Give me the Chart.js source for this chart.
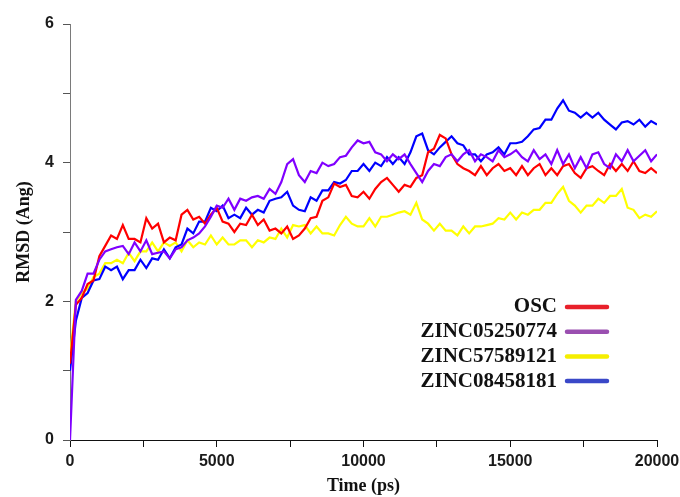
<!DOCTYPE html>
<html>
<head>
<meta charset="utf-8">
<script src="https://cdn.jsdelivr.net/npm/chart.js"></script>
<style>
  body { margin: 0; background: #fff; }
  canvas { display: block; }
</style>
</head>
<body>
<canvas id="rmsdChart" width="680" height="497"></canvas>
<script>
// time axis (ps)
const times = [
  0, 200, 400, 600, 800, 1000, 1200, 1400, 1600, 1800,
  2000, 2200, 2400, 2600, 2800, 3000, 3200, 3400, 3600, 3800,
  4000, 4200, 4400, 4600, 4800, 5000, 5200, 5400, 5600, 5800,
  6000, 6200, 6400, 6600, 6800, 7000, 7200, 7400, 7600, 7800,
  8000, 8200, 8400, 8600, 8800, 9000, 9200, 9400, 9600, 9800,
  10000, 10200, 10400, 10600, 10800, 11000, 11200, 11400, 11600, 11800,
  12000, 12200, 12400, 12600, 12800, 13000, 13200, 13400, 13600, 13800,
  14000, 14200, 14400, 14600, 14800, 15000, 15200, 15400, 15600, 15800,
  16000, 16200, 16400, 16600, 16800, 17000, 17200, 17400, 17600, 17800,
  18000, 18200, 18400, 18600, 18800, 19000, 19200, 19400, 19600, 19800,
  20000
];

const labels = ["OSC", "ZINC05250774", "ZINC57589121", "ZINC08458181"];

// RMSD (Ang)
const osc = [
  1.1, 1.95, 2.05, 2.25, 2.3, 2.65, 2.8, 2.95, 2.9, 3.1,
  2.9, 2.9, 2.85, 3.2, 3.05, 3.12, 2.85, 2.92, 2.88, 3.25,
  3.32, 3.18, 3.22, 3.12, 3.25, 3.35, 3.15, 3.12, 3.0, 3.12,
  3.1, 3.25, 3.1, 3.18, 3.02, 3.05, 2.98, 3.08, 2.9, 2.95,
  3.05, 3.2, 3.22, 3.45, 3.5, 3.7, 3.65, 3.68, 3.52, 3.5,
  3.58, 3.48, 3.62, 3.72, 3.78, 3.68, 3.58, 3.68, 3.65, 3.78,
  3.82, 4.15, 4.2, 4.4, 4.35, 4.12, 3.98, 3.92, 3.88, 3.82,
  3.95, 3.82, 3.92, 3.98, 3.88, 3.92, 3.82, 3.95, 3.82, 3.92,
  3.98, 3.82, 3.92, 3.82, 3.95, 3.98, 3.85, 3.78, 3.92, 3.95,
  3.88, 3.82, 3.98, 3.88, 3.98, 3.88, 4.02, 3.88, 3.85, 3.92,
  3.85
];
const zinc05250774 = [
  0, 2.02, 2.15, 2.4, 2.4, 2.6, 2.72, 2.75, 2.78, 2.8,
  2.68, 2.85, 2.72, 2.88, 2.68, 2.7, 2.72, 2.62, 2.75, 2.78,
  2.88, 2.92, 2.98, 3.08, 3.22, 3.38, 3.35, 3.48, 3.32, 3.48,
  3.45, 3.5, 3.52, 3.48, 3.62, 3.55, 3.72, 3.98, 4.05, 3.82,
  3.72, 3.88, 3.85, 4.0, 3.95, 3.98, 4.08, 4.1, 4.22, 4.32,
  4.28, 4.3, 4.15, 4.12, 4.02, 4.12, 4.05, 4.12, 3.98, 3.85,
  3.72, 3.88, 3.98, 3.95, 4.08, 4.12, 4.02, 4.12, 4.18, 4.02,
  4.12, 4.08, 4.02, 4.18, 4.08, 4.12, 4.18, 4.08, 4.02, 4.18,
  4.05, 4.12, 3.98, 4.18, 3.98, 4.12, 3.92, 4.08, 3.92, 4.12,
  4.15, 3.98, 3.92, 4.12, 4.02, 4.18, 4.02, 4.1, 4.18, 4.02,
  4.12
];
const zinc57589121 = [
  1.2, 2.0, 2.12, 2.18, 2.35, 2.4, 2.55, 2.55, 2.6, 2.55,
  2.7, 2.58, 2.72, 2.72, 2.85, 2.72, 2.85, 2.8, 2.85, 2.72,
  2.88, 2.78, 2.85, 2.82, 2.95, 2.82, 2.92, 2.82, 2.82, 2.88,
  2.88, 2.78, 2.88, 2.85, 2.92, 2.9, 3.05, 2.92, 3.1, 3.08,
  3.1, 2.98, 3.08, 2.98, 2.98, 2.95, 3.1, 3.22, 3.12, 3.08,
  3.08, 3.2, 3.08, 3.22, 3.22, 3.25, 3.28, 3.3, 3.25, 3.42,
  3.18, 3.12, 3.02, 3.12, 3.02, 3.02, 2.95, 3.08, 2.98, 3.08,
  3.08, 3.1, 3.12, 3.2, 3.18, 3.28, 3.18, 3.28, 3.25, 3.32,
  3.32, 3.42, 3.42, 3.55, 3.65, 3.45, 3.38, 3.28, 3.38, 3.38,
  3.48, 3.42, 3.52, 3.52, 3.62, 3.35, 3.32, 3.2, 3.25, 3.22,
  3.3
];
const zinc08458181 = [
  1.0, 1.72, 2.05, 2.12, 2.3, 2.32, 2.5, 2.45, 2.5, 2.32,
  2.45, 2.45, 2.6, 2.48, 2.62, 2.6, 2.75, 2.62, 2.78, 2.82,
  3.05, 2.98, 3.15, 3.15, 3.35, 3.3, 3.38, 3.2, 3.25, 3.2,
  3.35, 3.25, 3.32, 3.28, 3.45, 3.48, 3.5, 3.58, 3.38, 3.32,
  3.3, 3.5, 3.45, 3.6, 3.6, 3.72, 3.7, 3.75, 3.88, 3.88,
  3.98, 3.88, 4.0, 3.95, 4.08, 3.98, 4.08, 3.98, 4.15, 4.38,
  4.42, 4.18, 4.12, 4.22, 4.3, 4.38, 4.28, 4.25, 4.12, 4.12,
  4.02, 4.12, 4.15, 4.22, 4.12, 4.28, 4.28, 4.3, 4.38, 4.48,
  4.5, 4.62, 4.62, 4.78, 4.9, 4.75, 4.72, 4.65, 4.72, 4.65,
  4.72, 4.62, 4.55, 4.48, 4.58, 4.6, 4.55, 4.62, 4.52, 4.6,
  4.55
];

const lineColors = ["#ff0000", "#8000ff", "#ffff00", "#0000ff"];
const legendColors = ["#e8202a", "#9a4fb0", "#f5ee00", "#3a48c8"];

function points(values) {
  return values.map((v, i) => ({ x: times[i], y: v }));
}

// legend sits inside the plot, text right-aligned with the swatch after it
const insideLegend = {
  id: "insideLegend",
  afterDraw(chart) {
    const ctx = chart.ctx;
    const area = chart.chartArea;
    const textRight = area.right - 100;
    const top = area.bottom - 133;
    ctx.save();
    ctx.font = "bold 21px 'Liberation Serif'";
    ctx.textAlign = "right";
    ctx.textBaseline = "middle";
    labels.forEach((label, i) => {
      const y = top + i * 24.7;
      ctx.fillStyle = "#111";
      ctx.fillText(label, textRight, y);
      ctx.strokeStyle = legendColors[i];
      ctx.lineWidth = 4.5;
      ctx.lineCap = "round";
      ctx.beginPath();
      ctx.moveTo(textRight + 10, y);
      ctx.lineTo(textRight + 50, y);
      ctx.stroke();
    });
    ctx.restore();
  },
};

const series = [osc, zinc05250774, zinc57589121, zinc08458181];
const drawOrder = [1, 0, 3, 2];

new Chart(document.getElementById("rmsdChart"), {
  type: "line",
  data: {
    datasets: series.map((values, i) => ({
      label: labels[i],
      data: points(values),
      borderColor: lineColors[i],
      borderWidth: 2.2,
      pointRadius: 0,
      tension: 0,
      order: drawOrder[i],
    })),
  },
  options: {
    responsive: false,
    animation: false,
    layout: { padding: { top: 24, right: 23, left: 0, bottom: 0 } },
    plugins: {
      legend: { display: false },
      tooltip: { enabled: false },
    },
    scales: {
      x: {
        type: "linear",
        min: 0,
        max: 20000,
        afterFit: (scale) => {
          scale.height = 57;
          scale.paddingLeft = 0;
          scale.paddingRight = 0;
        },
        border: { color: "#111", width: 1 },
        grid: { drawOnChartArea: false, color: "#111", tickLength: 7 },
        ticks: {
          stepSize: 2500,
          autoSkip: false,
          maxRotation: 0,
          padding: 5,
          color: "#1a1a1a",
          font: { family: "Liberation Sans", size: 16, weight: "bold" },
          callback: (v) => (v % 5000 === 0 ? v : ""),
        },
        title: {
          display: true,
          text: "Time (ps)",
          color: "#111",
          padding: { top: 0, bottom: 0 },
          font: { family: "Liberation Serif", size: 18, weight: "bold", lineHeight: 1.2 },
        },
      },
      y: {
        min: 0,
        max: 6,
        afterFit: (scale) => {
          scale.width = 70;
          scale.paddingTop = 0;
          scale.paddingBottom = 0;
        },
        border: { color: "#7a7a7a", width: 1 },
        grid: { drawOnChartArea: false, color: "#555", tickLength: 7 },
        ticks: {
          stepSize: 1,
          padding: 9,
          color: "#1a1a1a",
          font: { family: "Liberation Sans", size: 16, weight: "bold" },
          callback: (v) => (v % 2 === 0 ? v : ""),
        },
        title: {
          display: true,
          text: "RMSD (Ang)",
          color: "#111",
          padding: { top: 14, bottom: 0 },
          font: { family: "Liberation Serif", size: 18, weight: "bold", lineHeight: 1.2 },
        },
      },
    },
  },
  plugins: [insideLegend],
});
</script>
</body>
</html>
